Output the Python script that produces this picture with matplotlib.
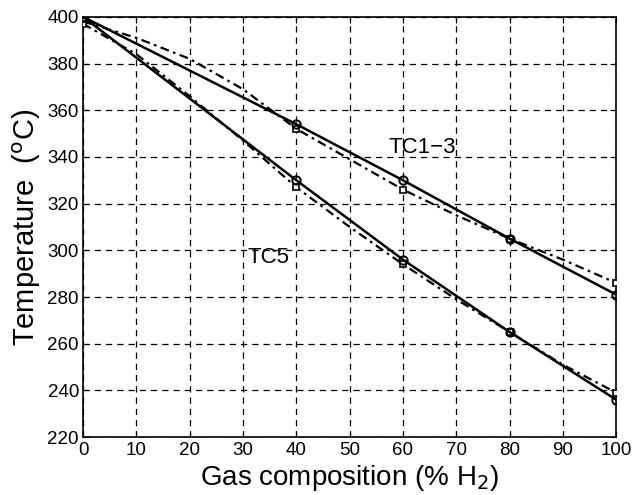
import matplotlib.pyplot as plt

# measured points (solid lines, circles)
x_meas = [0, 40, 60, 80, 100]
tc13_meas = [400, 354, 330, 305, 281]
tc5_meas = [400, 330, 296, 265, 236]

# model curves (dash-dot lines, squares at the measured x positions)
x_model = [0, 10, 20, 30, 40, 50, 60, 70, 80, 90, 100]
tc13_model = [398, 391, 382, 369, 352, 339, 326, 315, 305, 296, 286]
tc5_model = [397, 384, 366, 347, 327, 310, 294, 279, 265, 251, 239]
model_marks = [0, 4, 6, 8, 10]

x_ticks = list(range(0, 101, 10))
y_ticks = list(range(220, 401, 20))

plt.rcParams['font.family'] = ['Liberation Sans', 'DejaVu Sans']

fig = plt.figure(figsize=(6.34, 4.95), dpi=100)
ax = fig.add_axes([0.131, 0.117, 0.841, 0.849])

dashdot = (0, (4, 2, 1.2, 2))

for y_meas, y_model in [(tc13_meas, tc13_model), (tc5_meas, tc5_model)]:
    ax.plot(x_model, y_model, color='black', lw=1.6, linestyle=dashdot,
            marker='s', markevery=model_marks, markersize=5,
            markerfacecolor='white', markeredgewidth=1.2, zorder=3)
    ax.plot(x_meas, y_meas, color='black', lw=1.8, linestyle='-',
            marker='o', markersize=6, markerfacecolor='none',
            markeredgewidth=1.4, zorder=4)

ax.text(57.3, 344, 'TC1\u22123', fontsize=16, va='center', ha='left')
ax.text(30.8, 297, 'TC5', fontsize=16, va='center', ha='left')

ax.set_xlim(0, 100)
ax.set_ylim(220, 400)
ax.set_xticks(x_ticks)
ax.set_yticks(y_ticks)
ax.grid(True, color='black', linestyle=(0, (5, 4)), linewidth=0.9)
ax.tick_params(direction='in', length=4, labelsize=13.5, top=True, right=True)
ax.tick_params(axis='y', pad=3)
for s in ax.spines.values():
    s.set_linewidth(1.2)

ax.set_xlabel('Gas composition (% H$_2$)', fontsize=20, labelpad=3)
ax.set_ylabel('Temperature  ($^{\\rm o}$C)', fontsize=21, labelpad=3)

fig.savefig('out.png', dpi=100)
